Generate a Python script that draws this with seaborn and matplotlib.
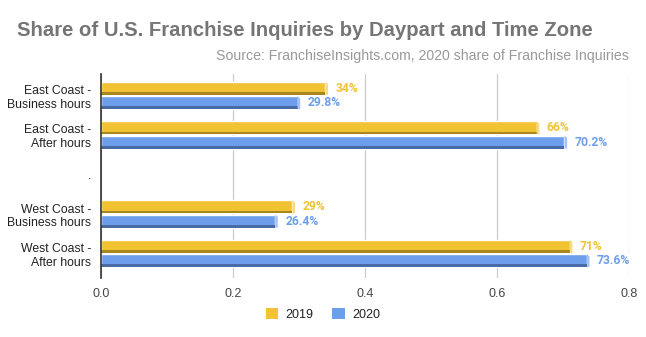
import matplotlib
matplotlib.use("Agg")
import matplotlib.pyplot as plt
import seaborn as sns
import pandas as pd
import numpy as np
from matplotlib.patches import Rectangle, Polygon, Patch
from matplotlib.transforms import offset_copy

categories = ["East Coast -\nBusiness hours", "East Coast -\nAfter hours", ".",
              "West Coast -\nBusiness hours", "West Coast -\nAfter hours"]
series = ["2019", "2020"]
values_2019 = [0.34, 0.66, np.nan, 0.29, 0.71]
values_2020 = [0.298, 0.702, np.nan, 0.264, 0.736]
labels_2019 = ["34%", "66%", "", "29%", "71%"]
labels_2020 = ["29.8%", "70.2%", "", "26.4%", "73.6%"]
xticks = [0.0, 0.2, 0.4, 0.6, 0.8]

colors = {"2019": "#F1C232", "2020": "#6D9EEB"}
dark = {"2019": "#A8871F", "2020": "#4A6AA5"}
light = {"2019": "#F7DA85", "2020": "#A6C4F3"}

df = pd.DataFrame({
    "category": categories * 2,
    "year": ["2019"] * len(categories) + ["2020"] * len(categories),
    "value": values_2019 + values_2020,
})

sns.set_style("white")
plt.rcParams["font.family"] = ["Liberation Sans", "DejaVu Sans"]

fig = plt.figure(figsize=(6.46, 3.37), dpi=100)
ax = fig.add_axes([0.156, 0.175, 0.818, 0.605])

sns.barplot(data=df, y="category", x="value", hue="year", order=categories,
            hue_order=series, palette=colors, orient="h", width=0.72,
            ax=ax, legend=False, saturation=1, errorbar=None)

ax.set_xlim(0, 0.8)
ax.set_ylim(4.62, -0.54)

label_lists = {"2019": labels_2019, "2020": labels_2020}
gap = 0.015
for container, yr in zip(ax.containers, series):
    for patch in container.patches:
        if patch is None:
            continue
        w = patch.get_width()
        if not np.isfinite(w) or w == 0:
            continue
        y0 = patch.get_y() + gap
        h = patch.get_height() - 2 * gap
        patch.set_y(y0)
        patch.set_height(h)
        idx = int(round(y0 + h / 2))
        strip = h * 0.21
        ax.add_patch(Rectangle((0, y0 + h - strip), w, strip,
                               facecolor=dark[yr], edgecolor="none", zorder=3))
        bev = 0.004
        ax.add_patch(Polygon([[w, y0], [w + bev, y0 + strip * 0.8],
                              [w + bev, y0 + h], [w, y0 + h]],
                             closed=True, facecolor=light[yr],
                             edgecolor="none", zorder=3))
        patch.set_zorder(2.5)
        tr = offset_copy(ax.transData, fig=fig, x=10, y=0, units="dots")
        ax.text(w, y0 + h / 2, label_lists[yr][idx], transform=tr,
                color=colors[yr], fontsize=8.7, fontweight="bold",
                family=["Roboto", "DejaVu Sans"], va="center", ha="left")

ax.set_xticks(xticks)
ax.set_xticklabels([f"{t:.1f}" for t in xticks])
ax.grid(axis="x", color="#CCCCCC", linewidth=0.9)
ax.set_axisbelow(True)
for s in ["top", "right", "bottom"]:
    ax.spines[s].set_visible(False)
ax.spines["left"].set_color("#333333")
ax.spines["left"].set_linewidth(1.2)
ax.spines["left"].set_zorder(4)
ax.tick_params(axis="x", length=0, pad=7, labelsize=9, labelcolor="#444444")
ax.tick_params(axis="y", length=0, pad=7, labelsize=8.8, labelcolor="#222222")
ax.set_xlabel("")
ax.set_ylabel("")

fig.text(0.027, 0.893, "Share of U.S. Franchise Inquiries by Daypart and Time Zone",
         fontsize=14.6, fontweight="bold", color="#757575", va="baseline", ha="left")
fig.text(0.974, 0.822, "Source: FranchiseInsights.com, 2020 share of Franchise Inquiries",
         fontsize=10.2, color="#999999", va="baseline", ha="right")

handles = [Patch(facecolor=colors[s], edgecolor="none") for s in series]
fig.legend(handles, series, loc="center", bbox_to_anchor=(0.5, 0.068), ncol=2,
           frameon=False, fontsize=9, handlelength=1.0, handleheight=1.0,
           columnspacing=1.5, handletextpad=0.6, labelcolor="#222222")

fig.savefig("out.png", dpi=100)
